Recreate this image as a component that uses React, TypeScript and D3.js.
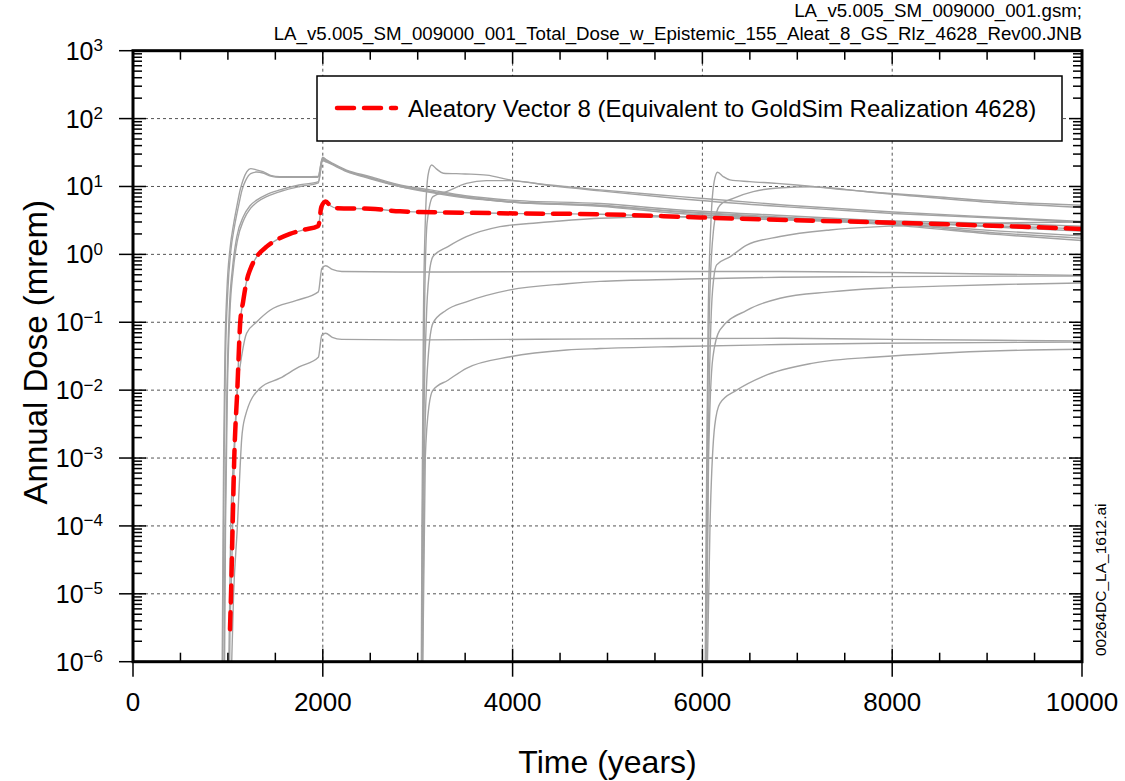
import React from 'react';
import * as d3 from 'd3';

type Pt = [number, number];

// ---------- text / ticks ----------
const xTickValues = [0, 2000, 4000, 6000, 8000, 10000];
const yExponents = [-6, -5, -4, -3, -2, -1, 0, 1, 2, 3];
const titleLines = [
  'LA_v5.005_SM_009000_001.gsm;',
  'LA_v5.005_SM_009000_001_Total_Dose_w_Epistemic_155_Aleat_8_GS_Rlz_4628_Rev00.JNB',
];
const legendLabel = 'Aleatory Vector 8 (Equivalent to GoldSim Realization 4628)';
const sideNote = '00264DC_LA_1612.ai';
const xTitle = 'Time (years)';
const yTitle = 'Annual Dose (mrem)';

// ---------- highlighted realization ----------
const aleatory8: Pt[] = [
  [1012, 1e-7], [1022, 3e-6], [1033, 1e-5], [1050, 1e-4], [1067, 1e-3], [1099, 1e-2],
  [1130, 0.1], [1160, 0.2], [1200, 0.42], [1233, 0.59], [1303, 0.92], [1408, 1.3],
  [1513, 1.63], [1654, 2.0], [1795, 2.29], [1953, 2.62], [1985, 5.0], [2030, 6.0],
  [2080, 5.2], [2146, 4.8], [2500, 4.7], [2813, 4.3], [3300, 4.15], [3867, 4.03],
  [4921, 3.9], [5975, 3.5], [6888, 3.21], [8009, 2.93], [9136, 2.62], [10000, 2.37],
];

// ---------- other realizations (event ~1000 yr) ----------
const g1a: Pt[] = [
  [935, 1e-7], [945, 1e-5], [955, 1e-3], [968, 0.03], [990, 0.3], [1022, 1.2], [1060, 2.8],
  [1093, 5], [1130, 9], [1160, 12.5], [1200, 16.5], [1240, 18.3], [1300, 17.6], [1370, 16.5],
  [1450, 14.6], [1549, 13.9], [1800, 13.9], [1950, 14.0], [1998, 27], [2040, 24.6], [2100, 22],
  [2250, 17.4], [2500, 14], [2779, 10.8], [3130, 8.9], [3500, 7.3], [3973, 6.3], [4921, 5.6],
  [5764, 4.5], [6888, 3.7], [8009, 3.05], [9136, 2.5], [10000, 2.2],
];
const g1a2: Pt[] = [
  [940, 1e-7], [950, 1e-5], [960, 1e-3], [975, 0.03], [1000, 0.3], [1030, 1.1], [1070, 2.6],
  [1110, 5], [1150, 9], [1190, 12.5], [1240, 15.5], [1300, 16.3], [1370, 15.8], [1450, 14.2],
  [1549, 13.6], [1800, 13.7], [1950, 13.7], [1998, 26], [2040, 24], [2100, 21.5], [2250, 17],
  [2500, 13.6], [2779, 10.2], [3130, 8.5], [3500, 7.0], [3973, 5.9], [4921, 5.2], [5764, 4.3],
  [6888, 3.5], [8009, 2.85], [9136, 2.2], [10000, 1.87],
];
const g1b: Pt[] = [
  [955, 1e-7], [970, 1e-4], [990, 0.01], [1015, 0.15], [1050, 0.66], [1093, 1.8], [1163, 3.6],
  [1233, 5.2], [1303, 6.3], [1408, 7.6], [1549, 8.9], [1750, 10.5], [1953, 11.8], [1998, 25],
  [2040, 23.5], [2250, 17], [2500, 13.3], [2813, 10.3], [3130, 8.4], [3500, 7.0], [3973, 6.0],
  [4921, 5.3], [5764, 4.2], [6888, 3.4], [8009, 2.8], [9136, 2.05], [10000, 1.73],
];
const g1b2: Pt[] = [
  [960, 1e-7], [975, 1e-4], [995, 0.01], [1020, 0.13], [1057, 0.6], [1100, 1.6], [1170, 3.3],
  [1240, 4.8], [1310, 5.9], [1420, 7.2], [1560, 8.5], [1760, 10.0], [1953, 11.3], [1998, 24],
  [2040, 22.8], [2250, 16.6], [2500, 13.0], [2813, 10.0], [3130, 8.2], [3500, 6.8], [3973, 5.9],
  [4921, 5.1], [5764, 4.0], [6888, 3.3], [8009, 2.7], [9136, 1.95], [10000, 1.6],
];
const g1c: Pt[] = [
  [1000, 1e-7], [1030, 1e-4], [1060, 1e-3], [1100, 0.01], [1150, 0.035], [1197, 0.069],
  [1300, 0.1], [1444, 0.15], [1724, 0.21], [1953, 0.28], [1990, 0.62], [2030, 0.68],
  [2100, 0.6], [2200, 0.56], [3000, 0.55], [5000, 0.56], [6818, 0.56], [8000, 0.54], [10000, 0.49],
];
const g1d: Pt[] = [
  [1020, 1e-7], [1060, 1e-5], [1100, 1e-4], [1130, 8e-4], [1145, 0.0019], [1180, 0.004],
  [1338, 0.0107], [1549, 0.015], [1750, 0.022], [1953, 0.0305], [1990, 0.065], [2030, 0.069],
  [2100, 0.06], [2200, 0.056], [3000, 0.055], [5000, 0.057], [6818, 0.058], [8000, 0.056],
  [10000, 0.053],
];

// ---------- event ~3000 yr ----------
const g2a: Pt[] = [
  [3035, 1e-7], [3045, 1e-4], [3060, 0.1], [3080, 3], [3110, 15], [3147, 20.7], [3200, 18],
  [3270, 15.7], [3500, 15.3], [3727, 14.7], [3973, 12.5], [4394, 10.5], [4921, 8.9],
  [5764, 7.1], [6888, 5.3], [8009, 4.2], [9136, 3.5], [10000, 3.05],
];
const g2b: Pt[] = [
  [3040, 1e-7], [3050, 1e-4], [3070, 0.1], [3100, 3], [3161, 7.1], [3302, 8.4], [3513, 11.1],
  [3727, 12.2], [3973, 12.2], [4394, 10.3], [4921, 8.6], [5764, 6.6], [6888, 5.0], [8009, 4.0],
  [9136, 3.4], [10000, 2.95],
];
const g2c: Pt[] = [
  [3042, 1e-7], [3060, 1e-3], [3090, 0.1], [3120, 0.5], [3161, 0.93], [3319, 1.3],
  [3513, 1.82], [3867, 2.56], [4218, 2.87], [4921, 3.4], [5764, 3.6], [6888, 3.4],
  [8009, 3.1], [9136, 2.85], [10000, 2.6],
];
const g2d: Pt[] = [
  [3045, 1e-7], [3070, 1e-3], [3110, 0.03], [3161, 0.097], [3300, 0.15], [3513, 0.2],
  [3973, 0.3], [4570, 0.37], [4921, 0.4], [5764, 0.43], [6818, 0.46], [7872, 0.47], [10000, 0.48],
];
const g2e: Pt[] = [
  [3045, 1e-7], [3080, 1e-3], [3120, 0.006], [3161, 0.01], [3319, 0.014], [3513, 0.021],
  [3973, 0.031], [4570, 0.039], [4921, 0.041], [5764, 0.044], [6818, 0.047], [7872, 0.049],
  [10000, 0.051],
];

// ---------- event ~6000 yr ----------
const g3a: Pt[] = [
  [6025, 1e-7], [6040, 1e-4], [6060, 0.1], [6090, 3], [6125, 12], [6160, 16.2], [6220, 14],
  [6291, 12.5], [6500, 11.8], [6783, 11.1], [6994, 10.5], [7521, 8.9], [7872, 8.1], [8500, 7.0],
  [9136, 6.0], [10000, 5.3],
];
const g3b: Pt[] = [
  [6030, 1e-7], [6050, 1e-3], [6080, 0.3], [6120, 2.5], [6150, 4.2], [6185, 5.3], [6325, 6.7],
  [6536, 8.4], [6800, 9.5], [7168, 9.9], [7521, 9.0], [7872, 8.0], [8500, 6.7], [9136, 5.7],
  [10000, 4.9],
];
const g3c: Pt[] = [
  [6035, 1e-7], [6060, 1e-3], [6090, 0.1], [6120, 0.45], [6150, 0.7], [6291, 0.92],
  [6467, 1.37], [6818, 1.83], [7345, 2.29], [7872, 2.56], [8500, 2.75], [9136, 2.9], [10000, 3.0],
];
const g3d: Pt[] = [
  [6035, 1e-7], [6065, 1e-3], [6110, 0.03], [6185, 0.077], [6467, 0.15], [6818, 0.226],
  [7345, 0.28], [7872, 0.317], [8500, 0.34], [9136, 0.36], [10000, 0.38],
];
const g3e: Pt[] = [
  [6040, 1e-7], [6080, 1e-4], [6130, 0.003], [6185, 0.0064], [6361, 0.01], [6642, 0.016],
  [7168, 0.025], [7872, 0.031], [8500, 0.035], [9136, 0.038], [10000, 0.04],
];

const grayCurves: Pt[][] = [
  g1a, g1a2, g1b, g1b2, g1c, g1d, g2a, g2b, g2c, g2d, g2e, g3a, g3b, g3c, g3d, g3e, aleatory8,
];

const FONT = "Arial, 'Liberation Sans', Helvetica, sans-serif";

export default function App() {
  const W = 1125;
  const H = 781;
  const L = 133, R = 1082, T = 50.7, B = 661.7;

  const x = d3.scaleLinear().domain([0, 10000]).range([L, R]);
  const y = d3.scaleLog().domain([1e-6, 1e3]).range([B, T]);
  const line = d3
    .line<Pt>()
    .x((d) => x(d[0]))
    .y((d) => y(Math.max(d[1], 1e-9)))
    .curve(d3.curveMonotoneX);

  const xMinor = d3.range(0, 10001, 500).filter((v) => v % 2000 !== 0);
  const yMinor: number[] = [];
  for (let e = -6; e < 3; e++) for (let k = 2; k <= 9; k++) yMinor.push(k * Math.pow(10, e));

  const redData = aleatory8.filter((d) => d[1] >= 3e-6);

  return (
    <svg
      width={W}
      height={H}
      style={{ position: 'absolute', left: 0, top: 0, background: '#fff' }}
      fontFamily={FONT}
    >
      <defs>
        <clipPath id="plotclip">
          <rect x={L} y={T} width={R - L} height={B - T} />
        </clipPath>
      </defs>
      <rect x={0} y={0} width={W} height={H} fill="#fff" />

      {/* grid */}
      <g stroke="#555" strokeWidth={1} strokeDasharray="3,3">
        {xTickValues.slice(1, -1).map((v) => (
          <line key={'gx' + v} x1={x(v)} x2={x(v)} y1={T} y2={B} />
        ))}
        {yExponents.slice(1, -1).map((e) => (
          <line key={'gy' + e} x1={L} x2={R} y1={y(Math.pow(10, e))} y2={y(Math.pow(10, e))} />
        ))}
      </g>

      {/* curves */}
      <g clipPath="url(#plotclip)" fill="none">
        {grayCurves.map((c, i) => (
          <path key={'c' + i} d={line(c) || ''} stroke="#a3a3a3" strokeWidth={1.4} />
        ))}
        <path
          d={line(redData) || ''}
          stroke="#ff0000"
          strokeWidth={4.5}
          strokeDasharray="17,10"
          strokeLinecap="round"
        />
      </g>

      {/* legend */}
      <g>
        <rect x={317} y={76} width={745} height={65} fill="#fff" stroke="#000" strokeWidth={1.5} />
        <line
          x1={337}
          x2={396}
          y1={108}
          y2={108}
          stroke="#ff0000"
          strokeWidth={4.5}
          strokeDasharray="17,10"
          strokeLinecap="round"
        />
        <text x={408} y={116.5} fontSize={24} fill="#000">
          {legendLabel}
        </text>
      </g>

      {/* ticks */}
      <g stroke="#000" strokeWidth={1.5}>
        {xMinor.map((v) => (
          <g key={'xm' + v}>
            <line x1={x(v)} x2={x(v)} y1={B} y2={B - 9} />
            <line x1={x(v)} x2={x(v)} y1={T} y2={T + 9} />
          </g>
        ))}
        {xTickValues.map((v) => (
          <g key={'xM' + v}>
            <line x1={x(v)} x2={x(v)} y1={B + 15} y2={B - 13} />
            <line x1={x(v)} x2={x(v)} y1={T} y2={T + 13} />
          </g>
        ))}
        {yMinor.map((v, i) => (
          <g key={'ym' + i}>
            <line x1={L} x2={L + 9} y1={y(v)} y2={y(v)} />
            <line x1={R} x2={R - 9} y1={y(v)} y2={y(v)} />
          </g>
        ))}
        {yExponents.map((e) => (
          <g key={'yM' + e}>
            <line x1={L - 14} x2={L + 13} y1={y(Math.pow(10, e))} y2={y(Math.pow(10, e))} />
            <line x1={R} x2={R - 13} y1={y(Math.pow(10, e))} y2={y(Math.pow(10, e))} />
          </g>
        ))}
      </g>

      {/* frame */}
      <rect x={L} y={T} width={R - L} height={B - T} fill="none" stroke="#000" strokeWidth={3} />

      {/* x tick labels */}
      <g fontSize={26} textAnchor="middle" fill="#000">
        {xTickValues.map((v) => (
          <text key={'xl' + v} x={x(v)} y={711}>
            {String(v)}
          </text>
        ))}
      </g>

      {/* y tick labels */}
      <g fill="#000">
        {yExponents.map((e) => (
          <text key={'yl' + e} x={103} y={y(Math.pow(10, e)) + 9} textAnchor="end" fontSize={25}>
            10
            <tspan fontSize={17} dy={-8.5}>
              {String(e).replace('-', '\u2212')}
            </tspan>
          </text>
        ))}
      </g>

      {/* axis titles */}
      <text x={(L + R) / 2} y={773} textAnchor="middle" fontSize={32} fill="#000">
        {xTitle}
      </text>
      <text
        transform={`translate(47, ${(T + B) / 2 - 4}) rotate(-90)`}
        textAnchor="middle"
        fontSize={33}
        fill="#000"
      >
        {yTitle}
      </text>

      {/* file names */}
      <g fontSize={18.7} textAnchor="end" fill="#000">
        <text x={R} y={17}>{titleLines[0]}</text>
        <text x={R} y={40}>{titleLines[1]}</text>
      </g>

      {/* side note */}
      <text transform={`translate(1106, 656) rotate(-90)`} fontSize={15.5} fill="#000">
        {sideNote}
      </text>
    </svg>
  );
}
